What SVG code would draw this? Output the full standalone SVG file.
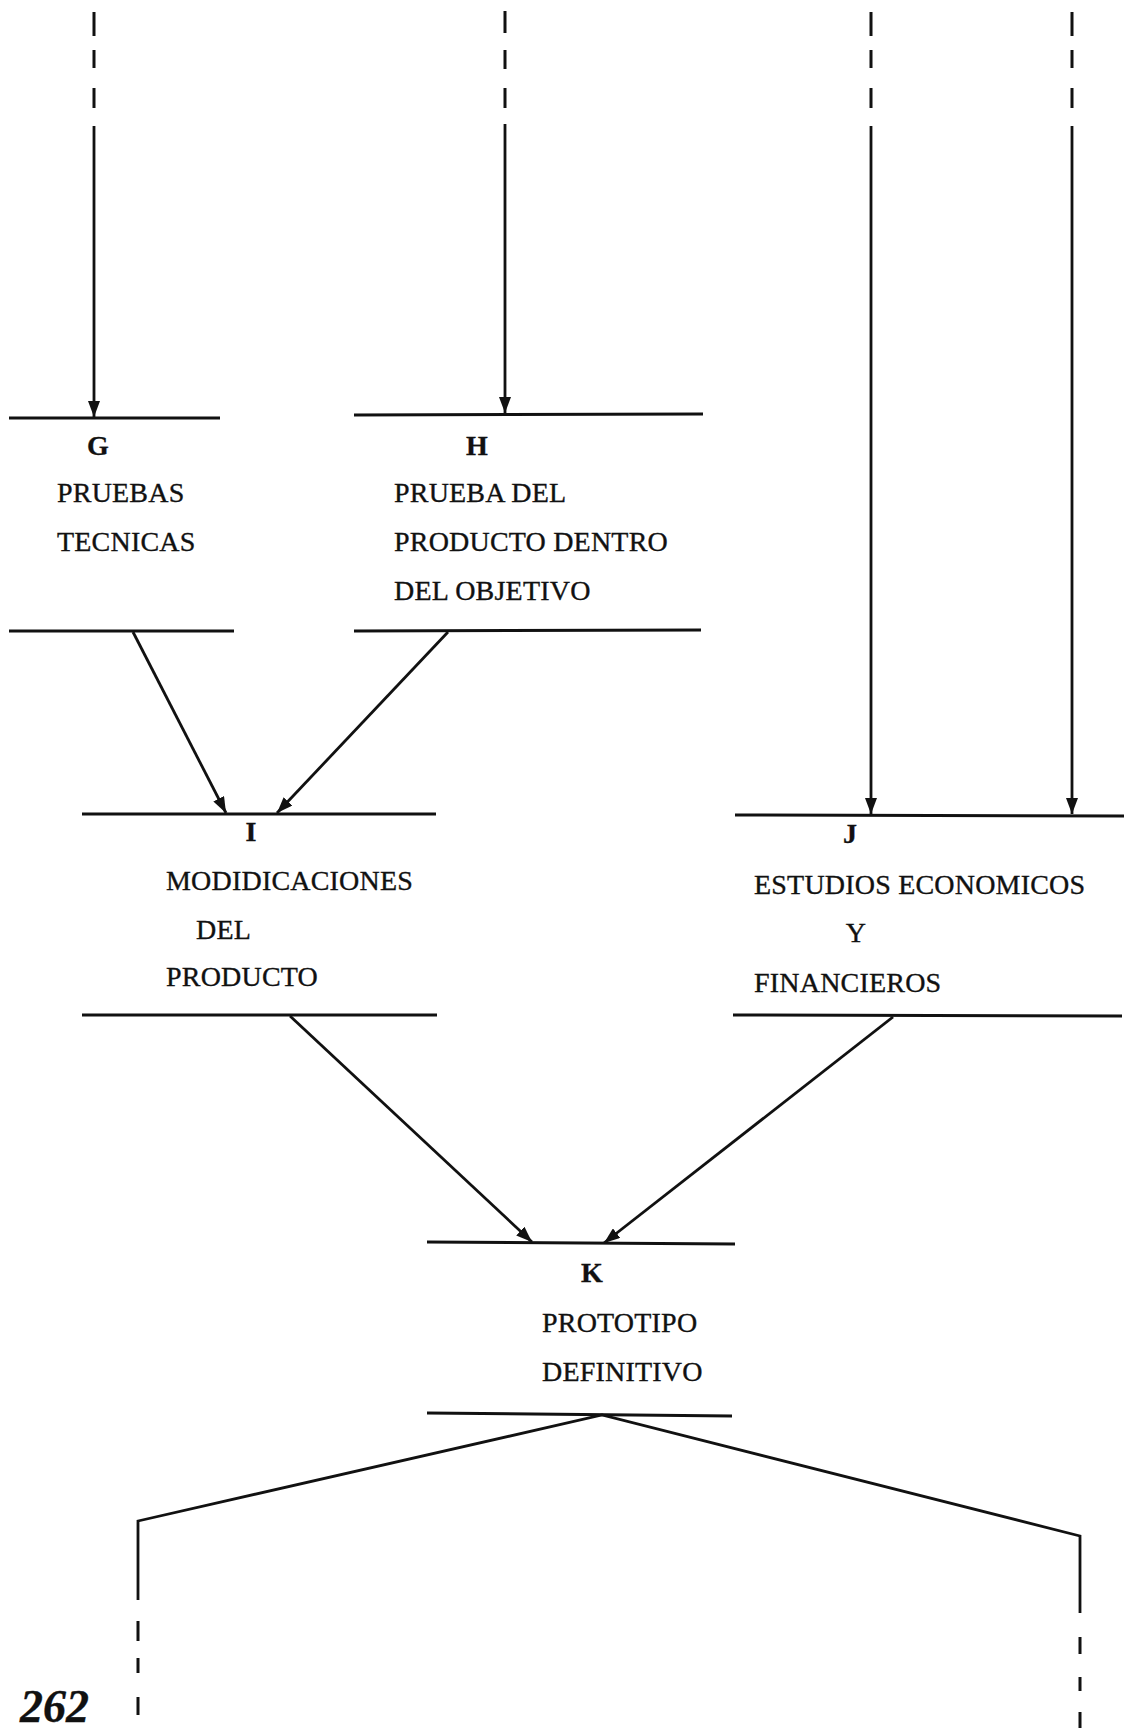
<svg xmlns="http://www.w3.org/2000/svg" width="1135" height="1728" viewBox="0 0 1135 1728">
  <style>
    .ln { stroke: #111; stroke-width: 2.8; fill: none; stroke-linecap: butt; }
    .bar { stroke: #111; stroke-width: 3; fill: none; }
    .dash { stroke: #111; stroke-width: 3; fill: none; }
    text { font-family: "Liberation Serif", "Times New Roman", serif; font-size: 28px; fill: #111; stroke: #111; stroke-width: 0.35; letter-spacing: 0.2px; }
    .lbl { font-weight: bold; letter-spacing: 0; }
    .pg { font-weight: bold; font-style: italic; font-size: 46px; letter-spacing: 0; }
  </style>
  <defs>
    <marker id="arrow" viewBox="0 0 16 12" refX="16" refY="6" markerWidth="16" markerHeight="12" markerUnits="userSpaceOnUse" orient="auto">
      <path d="M0,0 L16,6 L0,12 z" fill="#111"/>
    </marker>
  </defs>

  <!-- G: pruebas tecnicas -->
  <g id="node-G">
    <line class="bar" x1="9" y1="418" x2="220" y2="418"/>
    <line class="bar" x1="9" y1="631" x2="234" y2="631"/>
    <text class="lbl" x="98" y="455" text-anchor="middle">G</text>
    <text x="57" y="502">PRUEBAS</text>
    <text x="57" y="551">TECNICAS</text>
  </g>

  <!-- H: prueba del producto -->
  <g id="node-H">
    <line class="bar" x1="354" y1="415" x2="703" y2="414"/>
    <line class="bar" x1="354" y1="631" x2="701" y2="630"/>
    <text class="lbl" x="477" y="455" text-anchor="middle">H</text>
    <text x="394" y="502">PRUEBA DEL</text>
    <text x="394" y="551">PRODUCTO DENTRO</text>
    <text x="394" y="600">DEL OBJETIVO</text>
  </g>

  <!-- I: modificaciones del producto -->
  <g id="node-I">
    <line class="bar" x1="82" y1="814" x2="436" y2="814"/>
    <line class="bar" x1="82" y1="1015" x2="437" y2="1015"/>
    <text class="lbl" x="251" y="841" text-anchor="middle">I</text>
    <text x="166" y="890">MODIDICACIONES</text>
    <text x="196" y="939">DEL</text>
    <text x="166" y="986">PRODUCTO</text>
  </g>

  <!-- J: estudios economicos y financieros -->
  <g id="node-J">
    <line class="bar" x1="735" y1="815" x2="1124" y2="816"/>
    <line class="bar" x1="733" y1="1015" x2="1122" y2="1016"/>
    <text class="lbl" x="850" y="843" text-anchor="middle">J</text>
    <text x="754" y="894">ESTUDIOS ECONOMICOS</text>
    <text x="856" y="942" text-anchor="middle">Y</text>
    <text x="754" y="992">FINANCIEROS</text>
  </g>

  <!-- K: prototipo definitivo -->
  <g id="node-K">
    <line class="bar" x1="427" y1="1242" x2="735" y2="1244"/>
    <line class="bar" x1="427" y1="1413" x2="732" y2="1416"/>
    <text class="lbl" x="592" y="1282" text-anchor="middle">K</text>
    <text x="542" y="1332">PROTOTIPO</text>
    <text x="542" y="1381">DEFINITIVO</text>
  </g>

  <!-- page number -->
  <text class="pg" x="20" y="1722">262</text>

  <g id="connectors">
    <!-- incoming lines from the previous page -->
    <g class="dash">
      <path d="M94,12 V36 M94,50 V68 M94,88 V108"/>
      <path d="M505,11 V33 M505,50 V69 M505,88 V108"/>
      <path d="M871,12 V36 M871,50 V68 M871,88 V108"/>
      <path d="M1072,12 V36 M1072,50 V68 M1072,88 V108"/>
    </g>
    <line class="ln" x1="94" y1="126" x2="94" y2="417" marker-end="url(#arrow)"/>
    <line class="ln" x1="505" y1="124" x2="505" y2="413" marker-end="url(#arrow)"/>
    <line class="ln" x1="871" y1="126" x2="871" y2="814" marker-end="url(#arrow)"/>
    <line class="ln" x1="1072" y1="126" x2="1072" y2="814" marker-end="url(#arrow)"/>

    <!-- G, H to I -->
    <line class="ln" x1="133" y1="632" x2="226" y2="813" marker-end="url(#arrow)"/>
    <line class="ln" x1="448" y1="632" x2="277" y2="813" marker-end="url(#arrow)"/>

    <!-- I, J to K -->
    <line class="ln" x1="290" y1="1016" x2="532" y2="1242" marker-end="url(#arrow)"/>
    <line class="ln" x1="893" y1="1017" x2="604" y2="1243" marker-end="url(#arrow)"/>

    <!-- K out to the next page -->
    <path class="ln" d="M138,1600 V1521 L602,1415 L1080,1536 V1613"/>
    <g class="dash">
      <path d="M138,1621 V1641 M138,1658 V1673 M138,1697 V1715"/>
      <path d="M1080,1637 V1654 M1080,1677 V1691 M1080,1712 V1728"/>
    </g>
  </g>
</svg>
